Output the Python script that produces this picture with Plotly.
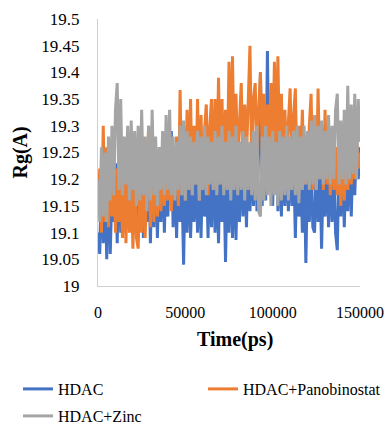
import plotly.graph_objects as go

# Time axis (ps), one sample every 1000 ps
time_ps = list(range(0, 150001, 1000))

hdac = [
    19.10, 19.06, 19.22, 19.08, 19.20, 19.05, 19.24, 19.06, 19.18, 19.12,
    19.23, 19.08, 19.26, 19.10, 19.21, 19.12, 19.25, 19.13, 19.22, 19.28,
    19.12, 19.24, 19.10, 19.22, 19.13, 19.25, 19.09, 19.20, 19.12, 19.24,
    19.08, 19.22, 19.11, 19.25, 19.09, 19.21, 19.12, 19.24, 19.10, 19.23,
    19.13, 19.26, 19.29, 19.11, 19.22, 19.09, 19.24, 19.12, 19.20, 19.04,
    19.22, 19.10, 19.25, 19.09, 19.21, 19.12, 19.24, 19.10, 19.22, 19.09,
    19.25, 19.13, 19.23, 19.09, 19.24, 19.11, 19.26, 19.10, 19.22, 19.08,
    19.25, 19.12, 19.23, 19.045, 19.22, 19.10, 19.26, 19.09, 19.24, 19.086,
    19.23, 19.12, 19.27, 19.13, 19.24, 19.11, 19.26, 19.14, 19.25, 19.15,
    19.28, 19.14, 19.26, 19.40, 19.15, 19.30, 19.16, 19.44, 19.18, 19.28,
    19.15, 19.27, 19.31, 19.14, 19.26, 19.13, 19.27, 19.15, 19.25, 19.14,
    19.26, 19.15, 19.24, 19.09, 19.25, 19.13, 19.23, 19.10, 19.24, 19.043,
    19.22, 19.12, 19.25, 19.11, 19.10, 19.24, 19.12, 19.23, 19.07, 19.22,
    19.13, 19.24, 19.11, 19.25, 19.12, 19.23, 19.10, 19.067, 19.24, 19.13,
    19.25, 19.11, 19.24, 19.14, 19.26, 19.13, 19.25, 19.17, 19.27, 19.20,
    19.26,
]

hdac_panobinostat = [
    19.15, 19.22, 19.10, 19.30, 19.12, 19.26, 19.11, 19.24, 19.13, 19.25,
    19.10, 19.22, 19.12, 19.24, 19.09, 19.21, 19.08, 19.23, 19.10, 19.20,
    19.07, 19.22, 19.09, 19.07, 19.21, 19.10, 19.23, 19.09, 19.22, 19.30,
    19.11, 19.28, 19.12, 19.24, 19.13, 19.22, 19.14, 19.25, 19.15, 19.23,
    19.16, 19.26, 19.14, 19.24, 19.17, 19.28, 19.15, 19.367, 19.17, 19.30,
    19.16, 19.33, 19.18, 19.35, 19.17, 19.30, 19.19, 19.35, 19.16, 19.32,
    19.18, 19.29, 19.34, 19.17, 19.30, 19.35, 19.18, 19.35, 19.20, 19.39,
    19.19, 19.35, 19.21, 19.33, 19.22, 19.42, 19.24, 19.43, 19.21, 19.36,
    19.23, 19.32, 19.38, 19.22, 19.34, 19.24, 19.37, 19.45, 19.22, 19.35,
    19.38, 19.24, 19.33, 19.40, 19.25, 19.36, 19.23, 19.34, 19.26, 19.38,
    19.24, 19.42, 19.26, 19.43, 19.23, 19.36, 19.22, 19.33, 19.24, 19.30,
    19.37, 19.21, 19.32, 19.37, 19.20, 19.30, 19.21, 19.33, 19.19, 19.28,
    19.20, 19.30, 19.36, 19.18, 19.29, 19.19, 19.37, 19.20, 19.30, 19.18,
    19.33, 19.19, 19.27, 19.17, 19.28, 19.18, 19.26, 19.17, 19.28, 19.15,
    19.27, 19.16, 19.25, 19.18, 19.27, 19.19, 19.26, 19.20, 19.28, 19.22,
    19.25,
]

hdac_zinc = [
    19.20, 19.12, 19.26, 19.13, 19.25, 19.12, 19.28, 19.16, 19.30, 19.17,
    19.33, 19.38, 19.18, 19.35, 19.17, 19.28, 19.19, 19.30, 19.16, 19.31,
    19.18, 19.29, 19.15, 19.30, 19.16, 19.33, 19.17, 19.28, 19.14, 19.30,
    19.16, 19.33, 19.17, 19.28, 19.15, 19.26, 19.18, 19.29, 19.17, 19.32,
    19.18, 19.33, 19.17, 19.28, 19.16, 19.27, 19.18, 19.30, 19.17, 19.31,
    19.16, 19.29, 19.18, 19.28, 19.17, 19.27, 19.19, 19.29, 19.16, 19.28,
    19.18, 19.30, 19.17, 19.28, 19.19, 19.27, 19.18, 19.29, 19.17, 19.28,
    19.19, 19.30, 19.17, 19.27, 19.18, 19.29, 19.16, 19.28, 19.18, 19.30,
    19.17, 19.27, 19.18, 19.29, 19.16, 19.28, 19.18, 19.27, 19.17, 19.29,
    19.16, 19.30, 19.14, 19.13, 19.28, 19.16, 19.30, 19.17, 19.28, 19.15,
    19.29, 19.17, 19.27, 19.15, 19.29, 19.16, 19.28, 19.17, 19.30, 19.16,
    19.28, 19.18, 19.29, 19.17, 19.30, 19.155, 19.28, 19.18, 19.30, 19.19,
    19.29, 19.18, 19.31, 19.19, 19.32, 19.18, 19.30, 19.20, 19.31, 19.19,
    19.29, 19.20, 19.32, 19.19, 19.30, 19.20, 19.33, 19.36, 19.19, 19.31,
    19.20, 19.33, 19.19, 19.375, 19.20, 19.34, 19.21, 19.36, 19.20, 19.35,
    19.27,
]

series_names = ["HDAC", "HDAC+Panobinostat", "HDAC+Zinc"]
series_colors = ["#4472C4", "#ED7D31", "#A5A5A5"]
series_legends = ["legend", "legend2", "legend3"]

y_ticks = [19, 19.05, 19.1, 19.15, 19.2, 19.25, 19.3, 19.35, 19.4, 19.45, 19.5]
y_tick_text = ["19", "19.05", "19.1", "19.15", "19.2", "19.25", "19.3", "19.35", "19.4", "19.45", "19.5"]
x_ticks = [0, 50000, 100000, 150000]
x_tick_text = ["0", "50000", "100000", "150000"]

FONT = "Liberation Serif, Times New Roman, serif"

fig = go.Figure()
for name, vals, col, lg in zip(series_names, [hdac, hdac_panobinostat, hdac_zinc], series_colors, series_legends):
    fig.add_trace(go.Scatter(
        x=time_ps[:len(vals)], y=vals, mode="lines", name=name,
        line=dict(color=col, width=3), legend=lg,
    ))

leg_common = dict(
    orientation="h", yanchor="middle", xanchor="left",
    font=dict(family=FONT, size=16, color="#000000"),
    bgcolor="rgba(0,0,0,0)",
)

fig.update_layout(
    width=391, height=425,
    margin=dict(l=98, r=31, t=19, b=139, autoexpand=False),
    paper_bgcolor="white", plot_bgcolor="white",
    font=dict(family=FONT, size=16, color="#000000"),
    showlegend=True,
    legend=dict(x=(18 - 98) / 262, y=(286 - 389) / 267, **leg_common),
    legend2=dict(x=(203 - 98) / 262, y=(286 - 389) / 267, **leg_common),
    legend3=dict(x=(18 - 98) / 262, y=(286 - 416) / 267, **leg_common),
    xaxis=dict(
        range=[0, 150000], tickvals=x_ticks, ticktext=x_tick_text,
        showgrid=False, zeroline=False, showline=True, linecolor="#D0D0D0", linewidth=1.3,
        ticks="", ticklabelstandoff=12,
        tickfont=dict(family=FONT, size=16, color="#000000"),
    ),
    yaxis=dict(
        range=[19, 19.5], tickvals=y_ticks, ticktext=y_tick_text,
        showgrid=False, zeroline=False, showline=True, linecolor="#D0D0D0", linewidth=1.3,
        ticks="", ticklabelstandoff=14,
        tickfont=dict(family=FONT, size=17, color="#000000"),
    ),
    annotations=[
        dict(text="<b>Time(ps)</b>", xref="paper", yref="paper", x=(235 - 98) / 262, y=(286 - 339) / 267,
             xanchor="center", yanchor="middle", showarrow=False,
             font=dict(family=FONT, size=20, color="#000000")),
        dict(text="<b>Rg(A)</b>", xref="paper", yref="paper", x=(20 - 98) / 262, y=0.5,
             xanchor="center", yanchor="middle", textangle=-90, showarrow=False,
             font=dict(family=FONT, size=20, color="#000000")),
    ],
)

fig.write_html(
    "out.html",
    config={"displayModeBar": False},
    post_script="document.body.style.margin='0';document.body.style.overflow='hidden';",
)
